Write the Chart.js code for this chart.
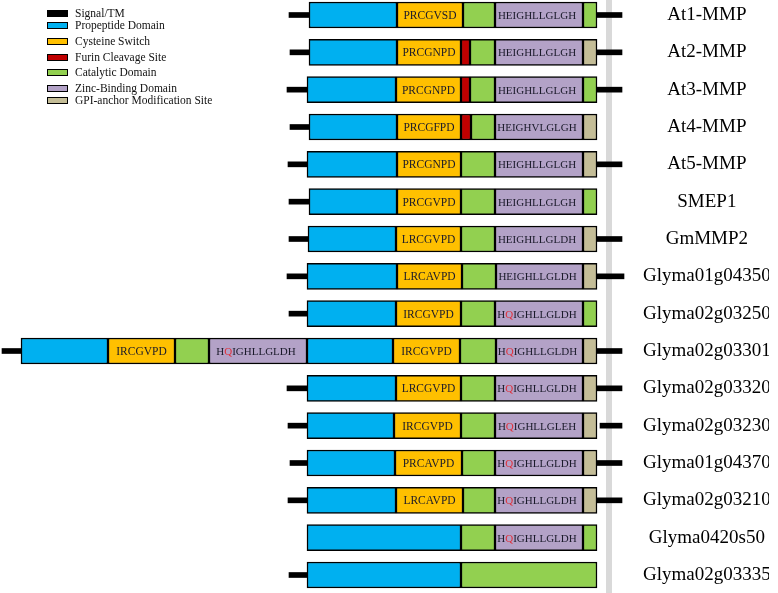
<!DOCTYPE html>
<html>
<head>
<meta charset="utf-8">
<script src="https://cdn.jsdelivr.net/npm/chart.js@4/dist/chart.umd.min.js"></script>
<style>
    body { margin: 0; background: #fff; }
    #wrap { position: relative; width: 778px; height: 593px; }
    #legend { position: absolute; left: 47px; top: 0; font-family: "Liberation Serif", serif; font-size: 11.5px; color: #111; }
    .item { position: absolute; left: 0; white-space: nowrap; height: 12px; line-height: 12px; }
    .box { position: absolute; left: 0; top: 3px; width: 19px; height: 5px; border: 1.2px solid #000; }
    .item span { position: absolute; left: 28px; top: 0; }
</style>
</head>
<body>
<div id="wrap">
    <canvas id="domainChart"></canvas>
    <div id="legend"></div>
</div>
<script>
// protein rows, top to bottom
const proteins = ['At1-MMP', 'At2-MMP', 'At3-MMP', 'At4-MMP', 'At5-MMP', 'SMEP1', 'GmMMP2',
    'Glyma01g04350', 'Glyma02g03250', 'Glyma02g03301', 'Glyma02g03320', 'Glyma02g03230',
    'Glyma01g04370', 'Glyma02g03210', 'Glyma0420s50', 'Glyma02g03335'];

// segment extents [start, end] along the diagram, null = absent
const signalLeft = [[289, 309], [290, 309], [287, 307], [290, 309], [288, 307], [289, 309], [289, 308], [287, 307],
    [289, 307], [2, 21], [287, 307], [288, 307], [290, 307], [288, 307], null, [289, 307]];
const signalRight = [[597, 622], [597, 622], [597, 622], null, [597, 622], null, [597, 622], [597, 624],
    null, [597, 622], [597, 622], [600, 622], [597, 622], [597, 622], null, null];
const propeptide = [[309, 397], [309, 397], [307, 396], [309, 397], [307, 397], [309, 397], [308, 396], [307, 397],
    [307, 396], [21, 108], [307, 396], [307, 394], [307, 395], [307, 396], [307, 461], [307, 461]];
const propeptide2 = [null, null, null, null, null, null, null, null, null, [307, 393], null, null, null, null, null, null];
const cysteine = [[397, 463], [397, 461], [396, 461], [397, 461], [397, 461], [397, 461], [396, 461], [397, 462],
    [396, 461], [108, 175], [396, 461], [394, 461], [395, 462], [396, 463], null, null];
const cysteine2 = [null, null, null, null, null, null, null, null, null, [393, 460], null, null, null, null, null, null];
const furin = [null, [461, 470], [461, 470], [461, 471], null, null, null, null, null, null, null, null, null, null, null, null];
const catalytic = [[463, 495], [470, 495], [470, 495], [471, 495], [461, 495], [461, 495], [461, 495], [462, 496],
    [461, 495], [175, 209], [461, 495], [461, 495], [462, 495], [463, 495], [461, 495], [461, 597]];
const catalytic2 = [[583, 597], null, [583, 597], null, null, [583, 597], null, null,
    [583, 597], [460, 496], null, null, null, null, [583, 597], null];
const zinc = [[495, 583], [495, 583], [495, 583], [495, 583], [495, 583], [495, 583], [495, 583], [496, 583],
    [495, 583], [209, 307], [495, 583], [495, 583], [495, 583], [495, 583], [495, 583], null];
const zinc2 = [null, null, null, null, null, null, null, null, null, [496, 583], null, null, null, null, null, null];
const gpi = [null, [583, 597], null, [583, 597], [583, 597], null, [583, 597], [583, 597],
    null, [583, 597], [583, 597], [583, 597], [583, 597], [583, 597], null, null];

// motif text
const cysMotifs = ['PRCGVSD', 'PRCGNPD', 'PRCGNPD', 'PRCGFPD', 'PRCGNPD', 'PRCGVPD', 'LRCGVPD', 'LRCAVPD',
    'IRCGVPD', 'IRCGVPD', 'LRCGVPD', 'IRCGVPD', 'PRCAVPD', 'LRCAVPD', '', ''];
const cysMotifs2 = ['', '', '', '', '', '', '', '', '', 'IRCGVPD', '', '', '', '', '', ''];
const zincMotifs = ['HEIGHLLGLGH', 'HEIGHLLGLGH', 'HEIGHLLGLGH', 'HEIGHVLGLGH', 'HEIGHLLGLGH', 'HEIGHLLGLGH',
    'HEIGHLLGLDH', 'HEIGHLLGLDH', 'HQIGHLLGLDH', 'HQIGHLLGLDH', 'HQIGHLLGLDH', 'HQIGHLLGLEH',
    'HQIGHLLGLDH', 'HQIGHLLGLDH', 'HQIGHLLGLDH', ''];
const zincMotifs2 = ['', '', '', '', '', '', '', '', '', 'HQIGHLLGLDH', '', '', '', '', '', ''];

const legendNames = ['Signal/TM', 'Propeptide Domain', 'Cysteine Switch', 'Furin Cleavage Site',
    'Catalytic Domain', 'Zinc-Binding Domain', 'GPI-anchor Modification Site'];
const legendColors = ['#000000', '#00B0F0', '#FFC000', '#C00000', '#92D050', '#B3A2C7', '#C4BD97'];
const legendTops = [7, 19, 35, 51, 66, 82, 94];

const colors = {
    signal: '#000000', propeptide: '#00B0F0', cysteine: '#FFC000', furin: '#C00000',
    catalytic: '#92D050', zinc: '#B3A2C7', gpi: '#C4BD97'
};

function domainSet(label, data, color) {
    return {
        label: label, data: data, backgroundColor: color, borderColor: '#000', borderWidth: 1.5,
        borderSkipped: false, barThickness: 26, grouped: false, clip: false
    };
}
function lineSet(label, data) {
    return {
        label: label, data: data, backgroundColor: colors.signal, borderWidth: 0,
        barThickness: 5, grouped: false, clip: false
    };
}

const datasets = [
    lineSet('Signal/TM', signalLeft),
    lineSet('Signal/TM', signalRight),
    domainSet('Propeptide Domain', propeptide, colors.propeptide),
    domainSet('Propeptide Domain', propeptide2, colors.propeptide),
    domainSet('Cysteine Switch', cysteine, colors.cysteine),
    domainSet('Cysteine Switch', cysteine2, colors.cysteine),
    domainSet('Furin Cleavage Site', furin, colors.furin),
    domainSet('Catalytic Domain', catalytic, colors.catalytic),
    domainSet('Catalytic Domain', catalytic2, colors.catalytic),
    domainSet('Zinc-Binding Domain', zinc, colors.zinc),
    domainSet('Zinc-Binding Domain', zinc2, colors.zinc),
    domainSet('GPI-anchor Modification Site', gpi, colors.gpi)
];

// which dataset carries which motif labels
const motifLayers = [
    { index: 4, texts: cysMotifs, size: 11.5, shift: 0 },
    { index: 5, texts: cysMotifs2, size: 11.5, shift: 0 },
    { index: 9, texts: zincMotifs, size: 11, shift: -2 },
    { index: 10, texts: zincMotifs2, size: 11, shift: -2 }
];

const guideLine = {
    id: 'guideLine',
    beforeDatasetsDraw(chart) {
        const ctx = chart.ctx;
        const x = chart.scales.x.getPixelForValue(606);
        ctx.save();
        ctx.fillStyle = '#D9D9D9';
        ctx.fillRect(x, 0, 6, chart.height);
        ctx.restore();
    }
};

const motifText = {
    id: 'motifText',
    afterDatasetsDraw(chart) {
        const ctx = chart.ctx;
        ctx.save();
        ctx.textBaseline = 'middle';
        ctx.textAlign = 'left';
        motifLayers.forEach(layer => {
            ctx.font = layer.size + 'px "Liberation Serif"';
            const meta = chart.getDatasetMeta(layer.index);
            meta.data.forEach((bar, i) => {
                const text = layer.texts[i];
                if (!text || !chart.data.datasets[layer.index].data[i]) return;
                const cx = (bar.x + bar.base) / 2 + layer.shift;
                const cy = bar.y + 1;
                const w = ctx.measureText(text).width;
                let x = cx - w / 2;
                if (text.startsWith('HQ')) {
                    const parts = [['H', '#1a1a2a'], ['Q', '#E0303A'], [text.slice(2), '#1a1a2a']];
                    parts.forEach(p => {
                        ctx.fillStyle = p[1];
                        ctx.fillText(p[0], x, cy);
                        x += ctx.measureText(p[0]).width;
                    });
                } else {
                    ctx.fillStyle = '#1a1a2a';
                    ctx.fillText(text, x, cy);
                }
            });
        });
        ctx.restore();
    }
};

const ctx = document.getElementById('domainChart').getContext('2d');
new Chart(ctx, {
    type: 'bar',
    data: { labels: proteins, datasets: datasets },
    options: {
        indexAxis: 'y',
        responsive: true,
        maintainAspectRatio: false,
        animation: false,
        layout: { padding: { top: 15, bottom: 18, left: 0, right: 9 } },
        plugins: { legend: { display: false }, tooltip: { enabled: false } },
        scales: {
            x: { type: 'linear', min: 0, max: 635, display: false },
            y: {
                position: 'right',
                offset: false,
                grid: { display: false, offset: false },
                border: { display: false },
                afterFit(scale) { scale.width = 134; },
                ticks: {
                    crossAlign: 'center',
                    padding: 0,
                    color: '#000',
                    font: { family: '"Liberation Serif"', size: 19 }
                }
            }
        }
    },
    plugins: [guideLine, motifText]
});

const legendEl = document.getElementById('legend');
legendNames.forEach((name, i) => {
    const item = document.createElement('div');
    item.className = 'item';
    item.style.top = legendTops[i] + 'px';
    item.innerHTML = '<div class="box" style="background:' + legendColors[i] + '"></div><span>' + name + '</span>';
    legendEl.appendChild(item);
});
</script>
</body>
</html>
